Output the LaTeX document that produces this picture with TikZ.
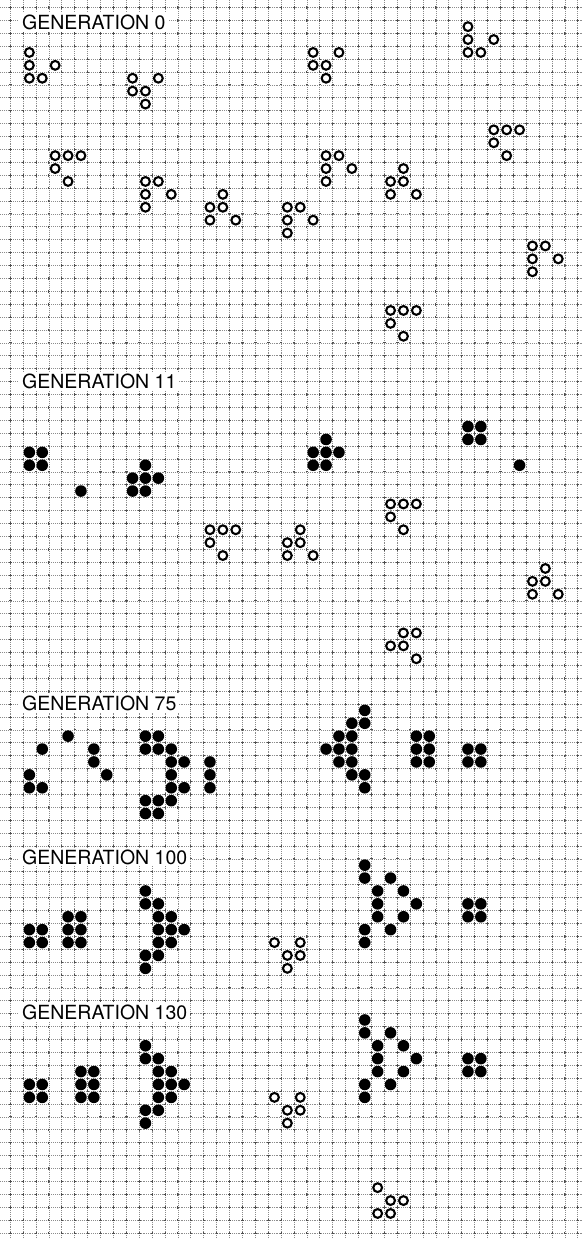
\documentclass[tikz,border=0pt]{standalone}
\usepackage{fontspec}
\setmainfont{TeX Gyre Heros}
\begin{document}
\begin{tikzpicture}[x=1pt,y=-1pt,
  gridline/.style={line width=0.4pt,black!45,dash pattern=on 0.7pt off 1.2pt},
  gridmarkv/.style={line width=0.5pt,black!70,dash pattern=on 2.4pt off 10.5pt,dash phase=6.5pt},
  gridmarkh/.style={line width=0.5pt,black!70,dash pattern=on 2.4pt off 10.5pt,dash phase=3.8pt},
  opencell/.style={line width=2.1pt,black},
  fullcell/.style={fill=black},
  lab/.style={fill=white,anchor=west,inner xsep=3pt,inner ysep=2pt,font=\fontsize{19.5}{19.5}\selectfont}]
\useasboundingbox (0,0) rectangle (582,1239);
\fill[white] (0,0) rectangle (582,1239);
% grid
\foreach \i in {0,...,44} {
  \draw[gridline] ({10+12.9*\i},0) -- ({10+12.9*\i},1239);
  \draw[gridmarkv] ({10+12.9*\i},0) -- ({10+12.9*\i},1239);
}
\foreach \j in {0,...,95} {
  \draw[gridline] (0,{7.3+12.9*\j}) -- (582,{7.3+12.9*\j});
  \draw[gridmarkh] (0,{7.3+12.9*\j}) -- (582,{7.3+12.9*\j});
}
% labels
\node[lab] (g0) at (19,22.5) {GENERATION 0};
\node[lab] (g11) at (19,381.5) {GENERATION 11};
\node[lab] (g75) at (19,703.5) {GENERATION 75};
\node[lab] (g100) at (19,857) {GENERATION 100};
\node[lab] (g130) at (19,1012) {GENERATION 130};
% open cells
\foreach \c/\r in {
  1/3,1/4,1/5,2/5,3/4,
  9/5,11/5,9/6,10/6,10/7,
  3/11,4/11,5/11,3/12,4/13,
  10/13,11/13,10/14,12/14,10/15,
  16/14,15/15,16/15,15/16,17/16,
  21/15,22/15,21/16,23/16,21/17,
  23/3,25/3,23/4,24/4,24/5,
  35/1,35/2,37/2,35/3,36/3,
  37/9,38/9,39/9,37/10,38/11,
  24/11,25/11,24/12,26/12,24/13,
  30/12,29/13,30/13,29/14,31/14,
  40/18,41/18,40/19,42/19,40/20,
  29/23,30/23,31/23,29/24,30/25,
  29/38,30/38,31/38,29/39,30/40,
  15/40,16/40,17/40,15/41,16/42,
  22/40,21/41,22/41,21/42,23/42,
  41/43,40/44,41/44,40/45,42/45,
  30/48,31/48,29/49,30/49,31/50,
  20/72,22/72,21/73,22/73,21/74,
  20/84,22/84,21/85,22/85,21/86,
  28/91,29/92,30/92,28/93,29/93}
  {\draw[opencell] ({16.45+12.9*\c},{13.75+12.9*\r}) circle[radius=4.4pt];}
% filled cells
\foreach \c/\r in {
  1/34,2/34,1/35,2/35, 5/37,
  10/35,9/36,10/36,11/36,9/37,10/37,
  24/33,23/34,24/34,25/34,23/35,24/35,
  35/32,36/32,35/33,36/33, 39/35,
  4/56,2/57,6/57,6/58,7/59,1/59,1/60,2/60,
  10/56,11/56,10/57,11/57,12/57,12/58,13/58,15/58,12/59,15/59,12/60,13/60,15/60,10/61,11/61,12/61,10/62,11/62,
  27/54,26/55,27/55,25/56,26/56,24/57,25/57,26/57,25/58,26/58,26/59,27/59,27/60,
  31/56,32/56,31/57,32/57,31/58,32/58,
  35/57,36/57,35/58,36/58,
  1/71,2/71,1/72,2/72,
  4/70,5/70,4/71,5/71,4/72,5/72,
  10/68,10/69,11/69,11/70,12/70,11/71,12/71,13/71,11/72,12/72,10/73,11/73,10/74,
  27/66,27/67,29/67,28/68,30/68,28/69,31/69,28/70,30/70,29/71,27/71,27/72,
  35/69,36/69,35/70,36/70,
  1/83,2/83,1/84,2/84,
  5/82,6/82,5/83,6/83,5/84,6/84,
  10/80,10/81,11/81,11/82,12/82,11/83,12/83,13/83,11/84,12/84,10/85,11/85,10/86,
  27/78,27/79,29/79,28/80,30/80,28/81,31/81,28/82,30/82,29/83,27/83,27/84,
  35/81,36/81,35/82,36/82}
  {\fill[fullcell] ({16.45+12.9*\c},{13.75+12.9*\r}) circle[radius=5.8pt];}
\end{tikzpicture}
\end{document}
